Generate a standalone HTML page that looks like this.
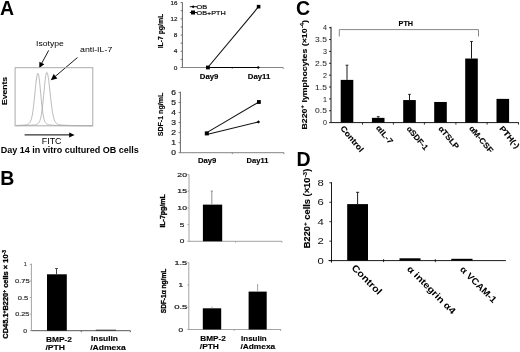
<!DOCTYPE html>
<html><head><meta charset="utf-8"><style>
html,body{margin:0;padding:0;background:#fff;}
svg{display:block;will-change:transform;font-family:"Liberation Sans", sans-serif;}
</style></head><body>
<svg width="520" height="352" viewBox="0 0 520 352">
<rect width="520" height="352" fill="#fff"/>
<text x="0.0" y="14.6" font-size="19.5" font-weight="bold" fill="#000">A</text>
<text x="0.2" y="184.7" font-size="19.5" font-weight="bold" fill="#000">B</text>
<text x="296.0" y="14.6" font-size="19.5" font-weight="bold" fill="#000">C</text>
<text x="296.4" y="166.4" font-size="19.5" font-weight="bold" fill="#000">D</text>
<text x="36" y="46" font-size="8" fill="#000" textLength="27.8" lengthAdjust="spacingAndGlyphs">Isotype</text>
<text x="80" y="52.2" font-size="8" fill="#000" textLength="32.3" lengthAdjust="spacingAndGlyphs">anti-IL-7</text>
<line x1="48.70" y1="50.40" x2="41.63" y2="63.42" stroke="#000" stroke-width="0.9"/>
<path d="M39.20,67.90 L39.41,61.64 L44.33,64.31 Z" fill="#000" stroke="none" stroke-width="1"/>
<line x1="77.50" y1="57.50" x2="55.14" y2="76.51" stroke="#000" stroke-width="0.9"/>
<path d="M50.80,80.20 L53.65,73.97 L57.40,78.39 Z" fill="#000" stroke="none" stroke-width="1"/>
<rect x="15.1" y="67.7" width="77.7" height="58.1" fill="none" stroke="#aaaaaa" stroke-width="1"/>
<path d="M15.80,125.46 L16.18,125.45 L16.57,125.44 L16.95,125.43 L17.33,125.41 L17.71,125.40 L18.09,125.39 L18.48,125.37 L18.86,125.35 L19.24,125.34 L19.62,125.32 L20.01,125.30 L20.39,125.28 L20.77,125.25 L21.16,125.23 L21.54,125.20 L21.92,125.18 L22.30,125.15 L22.69,125.12 L23.07,125.09 L23.45,125.05 L23.83,125.01 L24.21,124.97 L24.60,124.93 L24.98,124.88 L25.36,124.82 L25.75,124.76 L26.13,124.69 L26.51,124.62 L26.89,124.53 L27.27,124.42 L27.66,124.29 L28.04,124.13 L28.42,123.93 L28.80,123.68 L29.19,123.35 L29.57,122.94 L29.95,122.42 L30.34,121.75 L30.72,120.90 L31.10,119.85 L31.48,118.56 L31.87,116.98 L32.25,115.10 L32.63,112.88 L33.01,110.32 L33.39,107.42 L33.78,104.19 L34.16,100.69 L34.54,96.98 L34.92,93.14 L35.31,89.28 L35.69,85.55 L36.07,82.07 L36.45,79.00 L36.84,76.47 L37.22,74.63 L37.60,73.56 L37.98,73.32 L38.37,74.03 L38.75,75.65 L39.13,78.11 L39.52,81.24 L39.90,84.89 L40.28,88.86 L40.66,92.98 L41.05,97.10 L41.43,101.06 L41.81,104.78 L42.19,108.16 L42.58,111.17 L42.96,113.78 L43.34,116.01 L43.72,117.86 L44.11,119.37 L44.49,120.59 L44.87,121.55 L45.25,122.31 L45.64,122.89 L46.02,123.34 L46.40,123.69 L46.78,123.95 L47.16,124.16 L47.55,124.32 L47.93,124.46 L48.31,124.56 L48.70,124.65 L49.08,124.73 L49.46,124.80 L49.84,124.86 L50.22,124.91 L50.61,124.96 L50.99,125.01 L51.37,125.05 L51.75,125.09 L52.14,125.12 L52.52,125.15 L52.90,125.18 L53.28,125.21 L53.67,125.24 L54.05,125.26 L54.43,125.29 L54.81,125.31 L55.20,125.33 L55.58,125.35 L55.96,125.37 L56.34,125.38 L56.73,125.40 L57.11,125.41 L57.49,125.43 L57.88,125.44 L58.26,125.46 L58.64,125.47 L59.02,125.48 L59.41,125.49 L59.79,125.50 L60.17,125.51 L60.55,125.52 L60.94,125.53 L61.32,125.54 L61.70,125.55 L62.08,125.55 L62.47,125.56 L62.85,125.57 L63.23,125.57 L63.61,125.58 L64.00,125.59 L64.38,125.59 L64.76,125.60 L65.14,125.60 L65.53,125.61 L65.91,125.61 L66.29,125.62 L66.67,125.62 L67.06,125.63 L67.44,125.63 L67.82,125.64 L68.20,125.64 L68.58,125.65 L68.97,125.65 L69.35,125.65 L69.73,125.66 L70.11,125.66 L70.50,125.66 L70.88,125.67 L71.26,125.67 L71.64,125.67 L72.03,125.67 L72.41,125.68 L72.79,125.68 L73.17,125.68 L73.56,125.68 L73.94,125.69 L74.32,125.69 L74.70,125.69 L75.09,125.69 L75.47,125.70 L75.85,125.70 L76.23,125.70 L76.62,125.70 L77.00,125.70 L77.38,125.71 L77.77,125.71 L78.15,125.71 L78.53,125.71 L78.91,125.71 L79.30,125.71 L79.68,125.72 L80.06,125.72 L80.44,125.72 L80.83,125.72 L81.21,125.72 L81.59,125.72 L81.97,125.72 L82.36,125.73 L82.74,125.73 L83.12,125.73 L83.50,125.73 L83.88,125.73 L84.27,125.73 L84.65,125.73 L85.03,125.73 L85.41,125.73 L85.80,125.74 L86.18,125.74 L86.56,125.74 L86.94,125.74 L87.33,125.74 L87.71,125.74 L88.09,125.74 L88.47,125.74 L88.86,125.74 L89.24,125.74 L89.62,125.74 L90.00,125.75 L90.39,125.75 L90.77,125.75 L91.15,125.75 L91.53,125.75 L91.92,125.75 L92.30,125.75" fill="none" stroke="#adadad" stroke-width="0.85"/>
<path d="M15.80,125.63 L16.18,125.63 L16.57,125.63 L16.95,125.62 L17.33,125.62 L17.71,125.61 L18.09,125.61 L18.48,125.60 L18.86,125.60 L19.24,125.59 L19.62,125.59 L20.01,125.58 L20.39,125.57 L20.77,125.57 L21.16,125.56 L21.54,125.55 L21.92,125.55 L22.30,125.54 L22.69,125.53 L23.07,125.52 L23.45,125.51 L23.83,125.50 L24.21,125.49 L24.60,125.48 L24.98,125.47 L25.36,125.46 L25.75,125.45 L26.13,125.44 L26.51,125.42 L26.89,125.41 L27.27,125.39 L27.66,125.38 L28.04,125.36 L28.42,125.34 L28.80,125.32 L29.19,125.30 L29.57,125.28 L29.95,125.26 L30.34,125.24 L30.72,125.21 L31.10,125.18 L31.48,125.16 L31.87,125.12 L32.25,125.09 L32.63,125.06 L33.01,125.02 L33.39,124.97 L33.78,124.93 L34.16,124.88 L34.54,124.82 L34.92,124.76 L35.31,124.70 L35.69,124.62 L36.07,124.53 L36.45,124.42 L36.84,124.28 L37.22,124.12 L37.60,123.92 L37.98,123.65 L38.37,123.32 L38.75,122.88 L39.13,122.33 L39.52,121.61 L39.90,120.71 L40.28,119.57 L40.66,118.15 L41.05,116.43 L41.43,114.37 L41.81,111.93 L42.19,109.13 L42.58,105.95 L42.96,102.44 L43.34,98.64 L43.72,94.66 L44.11,90.59 L44.49,86.57 L44.87,82.76 L45.25,79.32 L45.64,76.42 L46.02,74.21 L46.40,72.81 L46.78,72.30 L47.16,72.63 L47.55,73.65 L47.93,75.33 L48.31,77.59 L48.70,80.33 L49.08,83.45 L49.46,86.83 L49.84,90.36 L50.22,93.94 L50.61,97.47 L50.99,100.88 L51.37,104.09 L51.75,107.06 L52.14,109.77 L52.52,112.18 L52.90,114.31 L53.28,116.15 L53.67,117.73 L54.05,119.05 L54.43,120.16 L54.81,121.06 L55.20,121.81 L55.58,122.41 L55.96,122.89 L56.34,123.27 L56.73,123.58 L57.11,123.83 L57.49,124.03 L57.88,124.19 L58.26,124.32 L58.64,124.43 L59.02,124.53 L59.41,124.61 L59.79,124.68 L60.17,124.74 L60.55,124.80 L60.94,124.85 L61.32,124.90 L61.70,124.94 L62.08,124.98 L62.47,125.01 L62.85,125.05 L63.23,125.08 L63.61,125.11 L64.00,125.14 L64.38,125.17 L64.76,125.19 L65.14,125.21 L65.53,125.24 L65.91,125.26 L66.29,125.28 L66.67,125.30 L67.06,125.31 L67.44,125.33 L67.82,125.35 L68.20,125.36 L68.58,125.38 L68.97,125.39 L69.35,125.40 L69.73,125.42 L70.11,125.43 L70.50,125.44 L70.88,125.45 L71.26,125.46 L71.64,125.47 L72.03,125.48 L72.41,125.49 L72.79,125.50 L73.17,125.51 L73.56,125.52 L73.94,125.52 L74.32,125.53 L74.70,125.54 L75.09,125.54 L75.47,125.55 L75.85,125.56 L76.23,125.56 L76.62,125.57 L77.00,125.58 L77.38,125.58 L77.77,125.59 L78.15,125.59 L78.53,125.60 L78.91,125.60 L79.30,125.61 L79.68,125.61 L80.06,125.61 L80.44,125.62 L80.83,125.62 L81.21,125.63 L81.59,125.63 L81.97,125.63 L82.36,125.64 L82.74,125.64 L83.12,125.64 L83.50,125.65 L83.88,125.65 L84.27,125.65 L84.65,125.66 L85.03,125.66 L85.41,125.66 L85.80,125.66 L86.18,125.67 L86.56,125.67 L86.94,125.67 L87.33,125.67 L87.71,125.68 L88.09,125.68 L88.47,125.68 L88.86,125.68 L89.24,125.68 L89.62,125.69 L90.00,125.69 L90.39,125.69 L90.77,125.69 L91.15,125.69 L91.53,125.70 L91.92,125.70 L92.30,125.70" fill="none" stroke="#adadad" stroke-width="0.85"/>
<text transform="translate(7.35,91) rotate(-90)" font-size="8" font-weight="bold" text-anchor="middle" fill="#000" textLength="28.1" lengthAdjust="spacingAndGlyphs" stroke="#000" stroke-width="0.12">Events</text>
<line x1="24.60" y1="134.90" x2="69.70" y2="134.90" stroke="#000" stroke-width="1"/>
<path d="M74.60,134.90 L69.20,137.40 L69.20,132.40 Z" fill="#000" stroke="none" stroke-width="1"/>
<text x="41.8" y="143.8" font-size="8.6" fill="#000" textLength="19.7" lengthAdjust="spacingAndGlyphs">FITC</text>
<text x="0.8" y="153.3" font-size="9" font-weight="bold" fill="#000">Day 14 in vitro cultured OB cells</text>
<line x1="182.40" y1="2.30" x2="182.40" y2="67.50" stroke="#555" stroke-width="0.9"/>
<line x1="182.40" y1="67.50" x2="283.20" y2="67.50" stroke="#777" stroke-width="0.9"/>
<line x1="180.60" y1="67.50" x2="182.40" y2="67.50" stroke="#555" stroke-width="0.8"/>
<text x="177.4" y="69.65" font-size="6.1" text-anchor="end" fill="#222" textLength="3.6" lengthAdjust="spacingAndGlyphs" stroke="#222" stroke-width="0.2">0</text>
<line x1="180.60" y1="59.39" x2="182.40" y2="59.39" stroke="#555" stroke-width="0.8"/>
<line x1="180.60" y1="51.27" x2="182.40" y2="51.27" stroke="#555" stroke-width="0.8"/>
<text x="177.4" y="53.425" font-size="6.1" text-anchor="end" fill="#222" textLength="3.6" lengthAdjust="spacingAndGlyphs" stroke="#222" stroke-width="0.2">4</text>
<line x1="180.60" y1="43.16" x2="182.40" y2="43.16" stroke="#555" stroke-width="0.8"/>
<line x1="180.60" y1="35.05" x2="182.40" y2="35.05" stroke="#555" stroke-width="0.8"/>
<text x="177.4" y="37.199999999999996" font-size="6.1" text-anchor="end" fill="#222" textLength="3.6" lengthAdjust="spacingAndGlyphs" stroke="#222" stroke-width="0.2">8</text>
<line x1="180.60" y1="26.94" x2="182.40" y2="26.94" stroke="#555" stroke-width="0.8"/>
<line x1="180.60" y1="18.82" x2="182.40" y2="18.82" stroke="#555" stroke-width="0.8"/>
<text x="177.4" y="20.974999999999994" font-size="6.1" text-anchor="end" fill="#222" textLength="6.9" lengthAdjust="spacingAndGlyphs" stroke="#222" stroke-width="0.2">12</text>
<line x1="180.60" y1="10.71" x2="182.40" y2="10.71" stroke="#555" stroke-width="0.8"/>
<line x1="180.60" y1="2.60" x2="182.40" y2="2.60" stroke="#555" stroke-width="0.8"/>
<text x="177.4" y="4.749999999999995" font-size="6.1" text-anchor="end" fill="#222" textLength="6.9" lengthAdjust="spacingAndGlyphs" stroke="#222" stroke-width="0.2">16</text>
<line x1="232.20" y1="67.50" x2="232.20" y2="69.00" stroke="#777" stroke-width="0.8"/>
<line x1="283.20" y1="67.50" x2="283.20" y2="69.00" stroke="#777" stroke-width="0.8"/>
<line x1="207.80" y1="67.50" x2="258.20" y2="67.50" stroke="#000" stroke-width="1.1"/>
<line x1="207.80" y1="67.50" x2="258.60" y2="6.66" stroke="#111" stroke-width="1.1"/>
<path d="M258.20,65.90 L259.80,67.50 L258.20,69.10 L256.60,67.50 Z" fill="#000" stroke="none" stroke-width="1"/>
<rect x="206.00" y="65.60" width="3.80" height="3.80" fill="#000"/>
<rect x="256.80" y="4.86" width="3.60" height="3.60" fill="#000"/>
<line x1="189.80" y1="6.70" x2="197.00" y2="6.70" stroke="#000" stroke-width="0.9"/>
<path d="M193.10,5.20 L194.60,6.70 L193.10,8.20 L191.60,6.70 Z" fill="#000" stroke="none" stroke-width="1"/>
<text x="196.6" y="8.7" font-size="6" fill="#111" textLength="10.6" lengthAdjust="spacingAndGlyphs" stroke="#111" stroke-width="0.2">OB</text>
<line x1="189.80" y1="12.50" x2="197.00" y2="12.50" stroke="#000" stroke-width="0.9"/>
<rect x="191.00" y="10.50" width="4.00" height="4.00" fill="#000"/>
<text x="196.6" y="14.7" font-size="6" fill="#111" textLength="29.2" lengthAdjust="spacingAndGlyphs" stroke="#111" stroke-width="0.2">OB+PTH</text>
<text x="199.8" y="79.3" font-size="6.7" font-weight="bold" fill="#000" textLength="18.6" lengthAdjust="spacingAndGlyphs" stroke="#000" stroke-width="0.12">Day9</text>
<text x="247.8" y="79.3" font-size="6.7" font-weight="bold" fill="#000" textLength="22.5" lengthAdjust="spacingAndGlyphs" stroke="#000" stroke-width="0.12">Day11</text>
<text transform="translate(163.1,31.1) rotate(-90)" font-size="6.9" font-weight="bold" text-anchor="middle" fill="#000" textLength="34.4" lengthAdjust="spacingAndGlyphs" stroke="#000" stroke-width="0.15">IL-7 pg/mL</text>
<line x1="180.40" y1="91.80" x2="180.40" y2="152.70" stroke="#555" stroke-width="0.9"/>
<line x1="180.40" y1="152.70" x2="284.00" y2="152.70" stroke="#777" stroke-width="0.9"/>
<line x1="178.60" y1="152.70" x2="180.40" y2="152.70" stroke="#555" stroke-width="0.8"/>
<text x="176.0" y="155.04999999999998" font-size="6.6" text-anchor="end" fill="#222" textLength="4.7" lengthAdjust="spacingAndGlyphs" stroke="#222" stroke-width="0.2">0</text>
<line x1="178.60" y1="142.65" x2="180.40" y2="142.65" stroke="#555" stroke-width="0.8"/>
<text x="176.0" y="144.99999999999997" font-size="6.6" text-anchor="end" fill="#222" textLength="4.7" lengthAdjust="spacingAndGlyphs" stroke="#222" stroke-width="0.2">1</text>
<line x1="178.60" y1="132.60" x2="180.40" y2="132.60" stroke="#555" stroke-width="0.8"/>
<text x="176.0" y="134.95" font-size="6.6" text-anchor="end" fill="#222" textLength="4.7" lengthAdjust="spacingAndGlyphs" stroke="#222" stroke-width="0.2">2</text>
<line x1="178.60" y1="122.55" x2="180.40" y2="122.55" stroke="#555" stroke-width="0.8"/>
<text x="176.0" y="124.89999999999999" font-size="6.6" text-anchor="end" fill="#222" textLength="4.7" lengthAdjust="spacingAndGlyphs" stroke="#222" stroke-width="0.2">3</text>
<line x1="178.60" y1="112.50" x2="180.40" y2="112.50" stroke="#555" stroke-width="0.8"/>
<text x="176.0" y="114.85" font-size="6.6" text-anchor="end" fill="#222" textLength="4.7" lengthAdjust="spacingAndGlyphs" stroke="#222" stroke-width="0.2">4</text>
<line x1="178.60" y1="102.45" x2="180.40" y2="102.45" stroke="#555" stroke-width="0.8"/>
<text x="176.0" y="104.8" font-size="6.6" text-anchor="end" fill="#222" textLength="4.7" lengthAdjust="spacingAndGlyphs" stroke="#222" stroke-width="0.2">5</text>
<line x1="178.60" y1="92.40" x2="180.40" y2="92.40" stroke="#555" stroke-width="0.8"/>
<text x="176.0" y="94.75" font-size="6.6" text-anchor="end" fill="#222" textLength="4.7" lengthAdjust="spacingAndGlyphs" stroke="#222" stroke-width="0.2">6</text>
<line x1="232.30" y1="152.70" x2="232.30" y2="154.20" stroke="#777" stroke-width="0.8"/>
<line x1="284.00" y1="152.70" x2="284.00" y2="154.20" stroke="#777" stroke-width="0.8"/>
<line x1="206.80" y1="132.60" x2="258.90" y2="102.00" stroke="#111" stroke-width="1.1"/>
<line x1="206.80" y1="134.50" x2="258.50" y2="121.90" stroke="#111" stroke-width="1.1"/>
<rect x="204.80" y="131.40" width="4.00" height="4.00" fill="#000"/>
<path d="M258.50,120.30 L260.10,121.90 L258.50,123.50 L256.90,121.90 Z" fill="#000" stroke="none" stroke-width="1"/>
<rect x="257.00" y="100.10" width="3.80" height="3.80" fill="#000"/>
<text x="197.9" y="162.6" font-size="6.7" font-weight="bold" fill="#000" textLength="18.4" lengthAdjust="spacingAndGlyphs" stroke="#000" stroke-width="0.12">Day9</text>
<text x="246.6" y="162.6" font-size="6.7" font-weight="bold" fill="#000" textLength="21.8" lengthAdjust="spacingAndGlyphs" stroke="#000" stroke-width="0.12">Day11</text>
<text transform="translate(163.4,114.5) rotate(-90)" font-size="7.2" font-weight="bold" text-anchor="middle" fill="#000" textLength="43.6" lengthAdjust="spacingAndGlyphs" stroke="#000" stroke-width="0.15">SDF-1 ng/mL</text>
<line x1="189.00" y1="174.50" x2="189.00" y2="241.30" stroke="#999" stroke-width="0.9"/>
<line x1="189.00" y1="241.30" x2="282.00" y2="241.30" stroke="#999" stroke-width="0.9"/>
<line x1="187.40" y1="241.30" x2="189.00" y2="241.30" stroke="#999" stroke-width="0.8"/>
<text x="182.15" y="243.4" font-size="5.8" text-anchor="middle" fill="#222" textLength="4.6" lengthAdjust="spacingAndGlyphs" stroke="#222" stroke-width="0.2">0</text>
<line x1="187.40" y1="224.62" x2="189.00" y2="224.62" stroke="#999" stroke-width="0.8"/>
<text x="182.15" y="226.725" font-size="5.8" text-anchor="middle" fill="#222" textLength="4.6" lengthAdjust="spacingAndGlyphs" stroke="#222" stroke-width="0.2">5</text>
<line x1="187.40" y1="207.95" x2="189.00" y2="207.95" stroke="#999" stroke-width="0.8"/>
<text x="182.15" y="210.04999999999998" font-size="5.8" text-anchor="middle" fill="#222" textLength="9.6" lengthAdjust="spacingAndGlyphs" stroke="#222" stroke-width="0.2">10</text>
<line x1="187.40" y1="191.28" x2="189.00" y2="191.28" stroke="#999" stroke-width="0.8"/>
<text x="182.15" y="193.375" font-size="5.8" text-anchor="middle" fill="#222" textLength="9.6" lengthAdjust="spacingAndGlyphs" stroke="#222" stroke-width="0.2">15</text>
<line x1="187.40" y1="174.60" x2="189.00" y2="174.60" stroke="#999" stroke-width="0.8"/>
<text x="182.15" y="176.7" font-size="5.8" text-anchor="middle" fill="#222" textLength="9.6" lengthAdjust="spacingAndGlyphs" stroke="#222" stroke-width="0.2">20</text>
<line x1="235.60" y1="241.30" x2="235.60" y2="242.80" stroke="#999" stroke-width="0.8"/>
<line x1="282.00" y1="241.30" x2="282.00" y2="242.80" stroke="#999" stroke-width="0.8"/>
<rect x="202.90" y="204.62" width="19.30" height="36.69" fill="#000"/>
<line x1="211.80" y1="204.62" x2="211.80" y2="191.10" stroke="#999" stroke-width="1.1"/>
<line x1="210.80" y1="191.10" x2="212.80" y2="191.10" stroke="#777" stroke-width="0.8"/>
<text transform="translate(164.9,210.9) rotate(-90)" font-size="6.6" font-weight="bold" text-anchor="middle" fill="#000" textLength="33.4" lengthAdjust="spacingAndGlyphs" stroke="#000" stroke-width="0.3">IL-7pg/mL</text>
<line x1="188.80" y1="262.30" x2="188.80" y2="329.50" stroke="#999" stroke-width="0.9"/>
<line x1="188.80" y1="329.50" x2="281.00" y2="329.50" stroke="#999" stroke-width="0.9"/>
<line x1="187.20" y1="329.50" x2="188.80" y2="329.50" stroke="#999" stroke-width="0.8"/>
<text x="180.8" y="331.6" font-size="5.8" text-anchor="middle" fill="#222" textLength="4.6" lengthAdjust="spacingAndGlyphs" stroke="#222" stroke-width="0.2">0</text>
<line x1="187.20" y1="307.27" x2="188.80" y2="307.27" stroke="#999" stroke-width="0.8"/>
<text x="180.8" y="309.3666666666667" font-size="5.8" text-anchor="middle" fill="#222" textLength="13.2" lengthAdjust="spacingAndGlyphs" stroke="#222" stroke-width="0.2">0.5</text>
<line x1="187.20" y1="285.03" x2="188.80" y2="285.03" stroke="#999" stroke-width="0.8"/>
<text x="180.8" y="287.1333333333334" font-size="5.8" text-anchor="middle" fill="#222" textLength="4.6" lengthAdjust="spacingAndGlyphs" stroke="#222" stroke-width="0.2">1</text>
<line x1="187.20" y1="262.80" x2="188.80" y2="262.80" stroke="#999" stroke-width="0.8"/>
<text x="180.8" y="264.90000000000003" font-size="5.8" text-anchor="middle" fill="#222" textLength="12.8" lengthAdjust="spacingAndGlyphs" stroke="#222" stroke-width="0.2">1.5</text>
<line x1="234.20" y1="329.50" x2="234.20" y2="331.00" stroke="#999" stroke-width="0.8"/>
<line x1="280.60" y1="329.50" x2="280.60" y2="331.00" stroke="#999" stroke-width="0.8"/>
<rect x="202.80" y="308.30" width="18.40" height="21.20" fill="#000"/>
<rect x="248.60" y="291.60" width="18.10" height="37.90" fill="#000"/>
<line x1="212.00" y1="308.30" x2="212.00" y2="306.60" stroke="#999" stroke-width="0.9"/>
<line x1="257.60" y1="291.60" x2="257.60" y2="283.90" stroke="#999" stroke-width="0.9"/>
<text x="200.3" y="340.9" font-size="6.3" font-weight="bold" fill="#000" textLength="25.5" lengthAdjust="spacingAndGlyphs" stroke="#000" stroke-width="0.12">BMP-2</text>
<text x="199.8" y="348.8" font-size="6.3" font-weight="bold" fill="#000" textLength="19.1" lengthAdjust="spacingAndGlyphs" stroke="#000" stroke-width="0.12">/PTH</text>
<text x="241.1" y="340.7" font-size="6.3" font-weight="bold" fill="#000" textLength="25.6" lengthAdjust="spacingAndGlyphs" stroke="#000" stroke-width="0.12">Insulin</text>
<text x="240.4" y="348.6" font-size="6.3" font-weight="bold" fill="#000" textLength="34.8" lengthAdjust="spacingAndGlyphs" stroke="#000" stroke-width="0.12">/Admexa</text>
<text transform="translate(166.3,291.0) rotate(-90)" font-size="7" font-weight="bold" text-anchor="middle" fill="#000" textLength="44.5" lengthAdjust="spacingAndGlyphs" stroke="#000" stroke-width="0.3">SDF-1α ng/mL</text>
<line x1="31.40" y1="263.70" x2="31.40" y2="330.70" stroke="#999" stroke-width="0.9"/>
<line x1="31.40" y1="330.70" x2="130.40" y2="330.70" stroke="#444" stroke-width="0.9"/>
<line x1="29.80" y1="330.70" x2="31.40" y2="330.70" stroke="#999" stroke-width="0.8"/>
<text x="27" y="332.7" font-size="5.6" text-anchor="end" fill="#333" textLength="3.8" lengthAdjust="spacingAndGlyphs" stroke="#333" stroke-width="0.2">0</text>
<line x1="29.80" y1="314.12" x2="31.40" y2="314.12" stroke="#999" stroke-width="0.8"/>
<text x="29.3" y="316.125" font-size="5.6" text-anchor="end" fill="#333" textLength="14" lengthAdjust="spacingAndGlyphs" stroke="#333" stroke-width="0.2">0.25</text>
<line x1="29.80" y1="297.55" x2="31.40" y2="297.55" stroke="#999" stroke-width="0.8"/>
<text x="28.2" y="299.54999999999995" font-size="5.6" text-anchor="end" fill="#333" textLength="10.5" lengthAdjust="spacingAndGlyphs" stroke="#333" stroke-width="0.2">0.5</text>
<line x1="29.80" y1="280.97" x2="31.40" y2="280.97" stroke="#999" stroke-width="0.8"/>
<text x="29.7" y="282.97499999999997" font-size="5.6" text-anchor="end" fill="#333" textLength="14.7" lengthAdjust="spacingAndGlyphs" stroke="#333" stroke-width="0.2">0.75</text>
<line x1="29.80" y1="264.40" x2="31.40" y2="264.40" stroke="#999" stroke-width="0.8"/>
<text x="26.6" y="266.4" font-size="5.6" text-anchor="end" fill="#333" textLength="2.7" lengthAdjust="spacingAndGlyphs" stroke="#333" stroke-width="0.2">1</text>
<line x1="81.30" y1="330.70" x2="81.30" y2="332.20" stroke="#444" stroke-width="0.8"/>
<line x1="130.40" y1="330.70" x2="130.40" y2="332.20" stroke="#444" stroke-width="0.8"/>
<rect x="47.00" y="274.30" width="19.80" height="56.40" fill="#000"/>
<line x1="56.50" y1="274.30" x2="56.50" y2="268.50" stroke="#333" stroke-width="0.9"/>
<line x1="55.00" y1="268.50" x2="58.00" y2="268.50" stroke="#333" stroke-width="0.8"/>
<rect x="95.80" y="329.70" width="20.20" height="1.00" fill="#333"/>
<text x="46.0" y="341.6" font-size="7.4" font-weight="bold" fill="#000" textLength="26.0" lengthAdjust="spacingAndGlyphs" stroke="#000" stroke-width="0.12">BMP-2</text>
<text x="45.4" y="350.1" font-size="7.4" font-weight="bold" fill="#000" textLength="19.6" lengthAdjust="spacingAndGlyphs" stroke="#000" stroke-width="0.12">/PTH</text>
<text x="91.0" y="341.3" font-size="7.2" font-weight="bold" fill="#000" textLength="26.9" lengthAdjust="spacingAndGlyphs" stroke="#000" stroke-width="0.12">Insulin</text>
<text x="90.2" y="350.2" font-size="7.2" font-weight="bold" fill="#000" textLength="35.6" lengthAdjust="spacingAndGlyphs" stroke="#000" stroke-width="0.12">/Admexa</text>
<text transform="translate(8.3,294.4) rotate(-90)" font-size="7" font-weight="bold" text-anchor="middle" fill="#000" textLength="88.7" lengthAdjust="spacingAndGlyphs" stroke="#000" stroke-width="0.3">CD45.1<tspan font-size="4.6" dy="-2.6">+</tspan><tspan dy="2.6">B220</tspan><tspan font-size="4.6" dy="-2.6">+</tspan><tspan dy="2.6"> cells × 10</tspan><tspan font-size="4.6" dy="-2.6">-3</tspan></text>
<line x1="331.00" y1="26.80" x2="331.00" y2="122.60" stroke="#000" stroke-width="0.9"/>
<line x1="331.00" y1="122.60" x2="518.80" y2="122.60" stroke="#000" stroke-width="0.9"/>
<line x1="329.00" y1="122.60" x2="331.00" y2="122.60" stroke="#000" stroke-width="0.8"/>
<text x="326.9" y="125.25" font-size="7.4" text-anchor="end" fill="#2a2a2a" textLength="4.0" lengthAdjust="spacingAndGlyphs" stroke="#2a2a2a" stroke-width="0.05">0</text>
<line x1="329.00" y1="110.74" x2="331.00" y2="110.74" stroke="#000" stroke-width="0.8"/>
<text x="326.9" y="113.3875" font-size="7.4" text-anchor="end" fill="#2a2a2a" textLength="11.8" lengthAdjust="spacingAndGlyphs" stroke="#2a2a2a" stroke-width="0.05">0.5</text>
<line x1="329.00" y1="98.88" x2="331.00" y2="98.88" stroke="#000" stroke-width="0.8"/>
<text x="326.9" y="101.525" font-size="7.4" text-anchor="end" fill="#2a2a2a" textLength="4.0" lengthAdjust="spacingAndGlyphs" stroke="#2a2a2a" stroke-width="0.05">1</text>
<line x1="329.00" y1="87.01" x2="331.00" y2="87.01" stroke="#000" stroke-width="0.8"/>
<text x="326.9" y="89.6625" font-size="7.4" text-anchor="end" fill="#2a2a2a" textLength="11.8" lengthAdjust="spacingAndGlyphs" stroke="#2a2a2a" stroke-width="0.05">1.5</text>
<line x1="329.00" y1="75.15" x2="331.00" y2="75.15" stroke="#000" stroke-width="0.8"/>
<text x="326.9" y="77.80000000000001" font-size="7.4" text-anchor="end" fill="#2a2a2a" textLength="4.0" lengthAdjust="spacingAndGlyphs" stroke="#2a2a2a" stroke-width="0.05">2</text>
<line x1="329.00" y1="63.29" x2="331.00" y2="63.29" stroke="#000" stroke-width="0.8"/>
<text x="326.9" y="65.9375" font-size="7.4" text-anchor="end" fill="#2a2a2a" textLength="11.8" lengthAdjust="spacingAndGlyphs" stroke="#2a2a2a" stroke-width="0.05">2.5</text>
<line x1="329.00" y1="51.42" x2="331.00" y2="51.42" stroke="#000" stroke-width="0.8"/>
<text x="326.9" y="54.074999999999996" font-size="7.4" text-anchor="end" fill="#2a2a2a" textLength="4.0" lengthAdjust="spacingAndGlyphs" stroke="#2a2a2a" stroke-width="0.05">3</text>
<line x1="329.00" y1="39.56" x2="331.00" y2="39.56" stroke="#000" stroke-width="0.8"/>
<text x="326.9" y="42.2125" font-size="7.4" text-anchor="end" fill="#2a2a2a" textLength="11.8" lengthAdjust="spacingAndGlyphs" stroke="#2a2a2a" stroke-width="0.05">3.5</text>
<line x1="329.00" y1="27.70" x2="331.00" y2="27.70" stroke="#000" stroke-width="0.8"/>
<text x="326.9" y="30.35" font-size="7.4" text-anchor="end" fill="#2a2a2a" textLength="4.0" lengthAdjust="spacingAndGlyphs" stroke="#2a2a2a" stroke-width="0.05">4</text>
<line x1="362.50" y1="122.60" x2="362.50" y2="124.60" stroke="#000" stroke-width="0.8"/>
<line x1="393.40" y1="122.60" x2="393.40" y2="124.60" stroke="#000" stroke-width="0.8"/>
<line x1="424.40" y1="122.60" x2="424.40" y2="124.60" stroke="#000" stroke-width="0.8"/>
<line x1="455.90" y1="122.60" x2="455.90" y2="124.60" stroke="#000" stroke-width="0.8"/>
<line x1="487.10" y1="122.60" x2="487.10" y2="124.60" stroke="#000" stroke-width="0.8"/>
<line x1="518.50" y1="122.60" x2="518.50" y2="124.60" stroke="#000" stroke-width="0.8"/>
<rect x="340.70" y="79.89" width="12.60" height="42.70" fill="#000"/>
<line x1="347.00" y1="79.89" x2="347.00" y2="65.19" stroke="#000" stroke-width="0.9"/>
<line x1="345.60" y1="65.19" x2="348.40" y2="65.19" stroke="#000" stroke-width="0.8"/>
<rect x="371.90" y="117.85" width="12.60" height="4.75" fill="#000"/>
<line x1="378.20" y1="117.85" x2="378.20" y2="116.67" stroke="#000" stroke-width="0.9"/>
<line x1="376.80" y1="116.67" x2="379.60" y2="116.67" stroke="#000" stroke-width="0.8"/>
<rect x="403.20" y="100.06" width="12.60" height="22.54" fill="#000"/>
<line x1="409.50" y1="100.06" x2="409.50" y2="94.37" stroke="#000" stroke-width="0.9"/>
<line x1="408.10" y1="94.37" x2="410.90" y2="94.37" stroke="#000" stroke-width="0.8"/>
<rect x="434.20" y="101.96" width="12.60" height="20.64" fill="#000"/>
<rect x="465.20" y="58.54" width="12.60" height="64.06" fill="#000"/>
<line x1="471.50" y1="58.54" x2="471.50" y2="41.46" stroke="#000" stroke-width="0.9"/>
<line x1="470.10" y1="41.46" x2="472.90" y2="41.46" stroke="#000" stroke-width="0.8"/>
<rect x="496.50" y="98.88" width="12.60" height="23.72" fill="#000"/>
<path d="M339.3,36.5 L339.3,29.6 L478.5,29.6 L478.5,36.5" fill="none" stroke="#888" stroke-width="1"/>
<text x="398.6" y="25.8" font-size="7.2" font-weight="bold" fill="#000" textLength="14.5" lengthAdjust="spacingAndGlyphs" stroke="#000" stroke-width="0.12">PTH</text>
<text transform="translate(307.3,74.85) rotate(-90)" font-size="7.7" font-weight="bold" text-anchor="middle" fill="#000" textLength="109.5" lengthAdjust="spacingAndGlyphs" stroke="#000" stroke-width="0.12">B220<tspan font-size="5.2" dy="-3">+</tspan><tspan dy="3"> lymphocytes (×10</tspan><tspan font-size="5.2" dy="-3">-4</tspan><tspan dy="3">)</tspan></text>
<text transform="translate(339.88,128.5) rotate(50)" font-size="7.9" font-weight="bold" fill="#000" textLength="31.52" lengthAdjust="spacingAndGlyphs" stroke="#000" stroke-width="0.12">Control</text>
<text transform="translate(375.52,128.1) rotate(50)" font-size="7.9" font-weight="bold" fill="#000" textLength="21.52" lengthAdjust="spacingAndGlyphs" stroke="#000" stroke-width="0.12">αIL-7</text>
<text transform="translate(406.19,128.93) rotate(50)" font-size="7.9" font-weight="bold" fill="#000" textLength="28.57" lengthAdjust="spacingAndGlyphs" stroke="#000" stroke-width="0.12">αSDF-1</text>
<text transform="translate(437.89,128.66) rotate(50)" font-size="7.9" font-weight="bold" fill="#000" textLength="27.53" lengthAdjust="spacingAndGlyphs" stroke="#000" stroke-width="0.12">αTSLP</text>
<text transform="translate(468.67,128.39) rotate(50)" font-size="7.9" font-weight="bold" fill="#000" textLength="32.73" lengthAdjust="spacingAndGlyphs" stroke="#000" stroke-width="0.12">αM-CSF</text>
<text transform="translate(498.92,128.75) rotate(50)" font-size="7.9" font-weight="bold" fill="#000" textLength="26.45" lengthAdjust="spacingAndGlyphs" stroke="#000" stroke-width="0.12">PTH(-)</text>
<text transform="translate(351.01,268.39) rotate(45)" font-size="9.6" font-weight="bold" fill="#000" textLength="38.17" lengthAdjust="spacingAndGlyphs">Control</text>
<text transform="translate(406.59,269.38) rotate(45)" font-size="9.2" font-weight="bold" fill="#000" textLength="64.07" lengthAdjust="spacingAndGlyphs">α integrin α4</text>
<text transform="translate(459.5,270.1) rotate(45)" font-size="9.2" font-weight="bold" fill="#000" textLength="47.15" lengthAdjust="spacingAndGlyphs">α VCAM-1</text>
<line x1="331.50" y1="182.20" x2="331.50" y2="262.60" stroke="#000" stroke-width="0.9"/>
<line x1="328.50" y1="260.60" x2="505.90" y2="260.60" stroke="#000" stroke-width="0.9"/>
<line x1="329.30" y1="260.60" x2="331.50" y2="260.60" stroke="#000" stroke-width="0.8"/>
<text x="323.9" y="263.65000000000003" font-size="8.5" text-anchor="end" fill="#111" textLength="6.3" lengthAdjust="spacingAndGlyphs">0</text>
<line x1="329.30" y1="241.15" x2="331.50" y2="241.15" stroke="#000" stroke-width="0.8"/>
<text x="323.9" y="244.20000000000005" font-size="8.5" text-anchor="end" fill="#111" textLength="6.3" lengthAdjust="spacingAndGlyphs">2</text>
<line x1="329.30" y1="221.70" x2="331.50" y2="221.70" stroke="#000" stroke-width="0.8"/>
<text x="323.9" y="224.75000000000003" font-size="8.5" text-anchor="end" fill="#111" textLength="6.3" lengthAdjust="spacingAndGlyphs">4</text>
<line x1="329.30" y1="202.25" x2="331.50" y2="202.25" stroke="#000" stroke-width="0.8"/>
<text x="323.9" y="205.3" font-size="8.5" text-anchor="end" fill="#111" textLength="6.3" lengthAdjust="spacingAndGlyphs">6</text>
<line x1="329.30" y1="182.80" x2="331.50" y2="182.80" stroke="#000" stroke-width="0.8"/>
<text x="323.9" y="185.85000000000002" font-size="8.5" text-anchor="end" fill="#111" textLength="6.3" lengthAdjust="spacingAndGlyphs">8</text>
<line x1="383.60" y1="259.10" x2="383.60" y2="262.10" stroke="#000" stroke-width="0.8"/>
<line x1="435.30" y1="259.10" x2="435.30" y2="262.10" stroke="#000" stroke-width="0.8"/>
<rect x="347.20" y="204.10" width="20.80" height="56.50" fill="#000"/>
<line x1="357.60" y1="204.10" x2="357.60" y2="192.30" stroke="#000" stroke-width="0.9"/>
<line x1="356.00" y1="192.30" x2="359.20" y2="192.30" stroke="#000" stroke-width="0.8"/>
<rect x="399.50" y="258.30" width="21.00" height="2.30" fill="#000"/>
<rect x="451.30" y="258.80" width="21.20" height="1.80" fill="#000"/>
<text transform="translate(310.0,208.5) rotate(-90)" font-size="8.4" font-weight="bold" text-anchor="middle" fill="#000" textLength="79.5" lengthAdjust="spacingAndGlyphs" stroke="#000" stroke-width="0.12">B220<tspan font-size="5.8" dy="-3.3">+</tspan><tspan dy="3.3"> cells (×10</tspan><tspan font-size="5.8" dy="-3.3">-3</tspan><tspan dy="3.3">)</tspan></text>
</svg>
</body></html>
